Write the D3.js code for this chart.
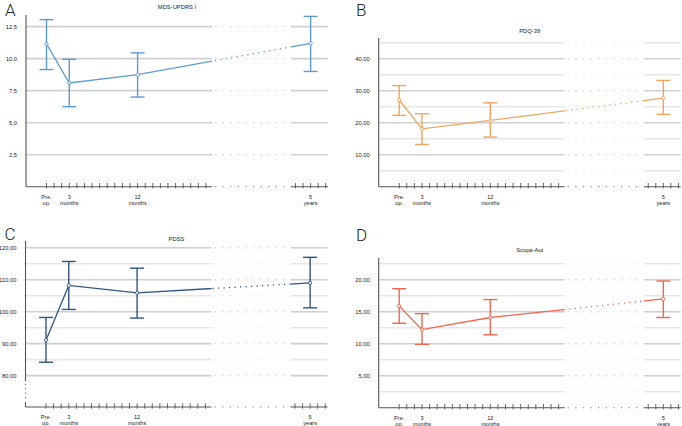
<!DOCTYPE html>
<html>
<head>
<meta charset="utf-8">
<script src="https://cdn.jsdelivr.net/npm/d3@7"></script>
<style>
  body { margin: 0; background: #fff; }
  svg { display: block; font-family: "Liberation Sans", Arial, sans-serif; }
</style>
</head>
<body>
<svg id="chart" width="682" height="426"></svg>
<script>
// time points (months after surgery) and their axis labels
const months = [0, 3, 12, 60];
const timeLabels = [["Pre.", "op."], ["3", "months"], ["12", "months"], ["5", "years"]];

// A - MDS-UPDRS I
const mdsMean = [11.15, 8.1, 8.75, 11.2];
const mdsLow = [9.15, 6.25, 7.0, 9.0];
const mdsHigh = [13.05, 9.95, 10.45, 13.3];
const mdsTicks = [2.5, 5, 7.5, 10, 12.5];
const mdsGrid = [2.5, 5, 7.5, 10, 12.5];

// B - PDQ-39
const pdqMean = [27.1, 18.1, 20.7, 27.7];
const pdqLow = [22.3, 13.2, 15.5, 22.6];
const pdqHigh = [31.6, 22.8, 26.2, 33.2];
const pdqTicks = [10, 20, 30, 40];
const pdqGrid = [5, 10, 15, 20, 25, 30, 35, 40, 45];

// C - PDSS
const pdssMean = [91.1, 108.2, 105.9, 109.0];
const pdssLow = [84.2, 100.7, 98.0, 101.2];
const pdssHigh = [98.2, 115.7, 113.6, 117.0];
const pdssTicks = [80, 90, 100, 110, 120];
const pdssGrid = [80, 85, 90, 95, 100, 105, 110, 115, 120];

// D - Scopa-Aut
const scopaMean = [15.9, 12.2, 14.1, 17.0];
const scopaLow = [13.2, 9.9, 11.4, 14.1];
const scopaHigh = [18.6, 14.7, 16.9, 19.8];
const scopaTicks = [5, 10, 15, 20];
const scopaGrid = [2.5, 5, 7.5, 10, 12.5, 15, 17.5, 20, 22.5];

const locale = d3.formatLocale({ decimal: ",", thousands: ".", grouping: [3], currency: ["", ""] });

const panels = [
  { letter: "A", title: "MDS-UPDRS I", color: "#5b9bd5", mean: mdsMean, low: mdsLow, high: mdsHigh,
    ticks: mdsTicks, grid: mdsGrid, fmt: locale.format(".1f"),
    x0: 26, yDomain: [0, 13.41], yRange: [186.7, 15], titleY: 8.5, letterX: 5, letterY: 15.5, yBreak: false },
  { letter: "B", title: "PDQ-39", color: "#f5a35c", mean: pdqMean, low: pdqLow, high: pdqHigh,
    ticks: pdqTicks, grid: pdqGrid, fmt: locale.format(".2f"),
    x0: 378.7, yDomain: [0, 46.5], yRange: [186.7, 37.9], titleY: 33.3, letterX: 356, letterY: 15.5, yBreak: false },
  { letter: "C", title: "PDSS", color: "#2f5585", mean: pdssMean, low: pdssLow, high: pdssHigh,
    ticks: pdssTicks, grid: pdssGrid, fmt: locale.format(".2f"),
    x0: 25.5, yDomain: [70.2, 122.1], yRange: [407, 241], titleY: 241, letterX: 4.5, letterY: 240, yBreak: true },
  { letter: "D", title: "Scopa-Aut", color: "#f0674e", mean: scopaMean, low: scopaLow, high: scopaHigh,
    ticks: scopaTicks, grid: scopaGrid, fmt: locale.format(".2f"),
    x0: 378.7, yDomain: [0, 23.4], yRange: [407.7, 258], titleY: 252.3, letterX: 356, letterY: 240.5, yBreak: false }
];

const svg = d3.select("#chart");
const defs = svg.append("defs");

panels.forEach((p, i) => {
  // broken time axis: first ~2 years, gap, then around 5 years
  const x = d3.scaleLinear()
    .domain([-2.7, 21.8, 57.4, 62.3])
    .range([p.x0, p.x0 + 186, p.x0 + 265, p.x0 + 302]);
  const y = d3.scaleLinear().domain(p.yDomain).range(p.yRange);

  const gapStart = x(21.8), gapEnd = x(57.4), right = x(62.3);
  const base = y(p.yDomain[0]);
  const top = y(p.yDomain[1]);

  const g = svg.append("g");

  // --- gridlines ---
  p.grid.forEach(v => {
    const major = p.ticks.includes(v);
    const col = major ? "#d0d0d0" : "#e7e7e7";
    g.append("line")
      .attr("x1", p.x0).attr("x2", gapStart).attr("y1", y(v)).attr("y2", y(v))
      .attr("stroke", col).attr("stroke-width", 1.6);
    g.append("line")
      .attr("x1", gapStart + 3).attr("x2", gapEnd - 2).attr("y1", y(v)).attr("y2", y(v))
      .attr("stroke", major ? "#d6d6d6" : "#ebebeb").attr("stroke-width", 1.4)
      .attr("stroke-dasharray", "1.4,6.2");
    g.append("line")
      .attr("x1", gapEnd).attr("x2", right).attr("y1", y(v)).attr("y2", y(v))
      .attr("stroke", col).attr("stroke-width", 1.6);
  });

  // --- y axis ---
  if (p.yBreak) {
    g.append("line").attr("x1", p.x0).attr("x2", p.x0).attr("y1", top).attr("y2", base - 26)
      .attr("stroke", "#555").attr("stroke-width", 1.1);
    g.append("line").attr("x1", p.x0).attr("x2", p.x0).attr("y1", base - 23).attr("y2", base - 6)
      .attr("stroke", "#666").attr("stroke-width", 1.1).attr("stroke-dasharray", "1,3.3");
    g.append("line").attr("x1", p.x0).attr("x2", p.x0).attr("y1", base - 5).attr("y2", base)
      .attr("stroke", "#555").attr("stroke-width", 1.1);
  } else {
    g.append("line").attr("x1", p.x0).attr("x2", p.x0).attr("y1", top).attr("y2", base)
      .attr("stroke", "#555").attr("stroke-width", 1.1);
  }

  g.selectAll(".ylab").data(p.ticks).join("text")
    .attr("x", p.x0 - 9)
    .attr("y", d => y(d) + 2)
    .attr("text-anchor", "end")
    .attr("font-size", 5.8)
    .attr("fill", "#222")
    .text(d => p.fmt(d));

  // --- x axis ---
  g.append("line").attr("x1", p.x0).attr("x2", gapStart).attr("y1", base).attr("y2", base)
    .attr("stroke", "#555").attr("stroke-width", 1.1);
  g.append("line").attr("x1", gapStart + 3).attr("x2", gapEnd - 2).attr("y1", base).attr("y2", base)
    .attr("stroke", "#777").attr("stroke-width", 1.1).attr("stroke-dasharray", "1.2,6.4");
  g.append("line").attr("x1", gapEnd).attr("x2", right).attr("y1", base).attr("y2", base)
    .attr("stroke", "#555").attr("stroke-width", 1.1);

  const tickMonths = d3.range(0, 22).concat(d3.range(58, 63));
  g.selectAll(".xtick").data(tickMonths).join("line")
    .attr("x1", d => x(d)).attr("x2", d => x(d))
    .attr("y1", base - 3.7).attr("y2", base + 1.7)
    .attr("stroke", "#555").attr("stroke-width", 0.9);

  months.forEach((m, k) => {
    const t = g.append("text")
      .attr("text-anchor", "middle")
      .attr("font-size", 5.6)
      .attr("fill", "#222");
    t.append("tspan").attr("x", x(m)).attr("y", base + 12.3).text(timeLabels[k][0]);
    t.append("tspan").attr("x", x(m)).attr("y", base + 17.8).text(timeLabels[k][1]);
  });

  // --- mean line: solid outside the gap, dotted across it ---
  const solidId = "solid" + i, gapId = "gap" + i;
  const cs = defs.append("clipPath").attr("id", solidId);
  cs.append("rect").attr("x", p.x0).attr("y", 0).attr("width", gapStart - p.x0).attr("height", 426);
  cs.append("rect").attr("x", gapEnd).attr("y", 0).attr("width", 682 - gapEnd).attr("height", 426);
  defs.append("clipPath").attr("id", gapId)
    .append("rect").attr("x", gapStart).attr("y", 0).attr("width", gapEnd - gapStart).attr("height", 426);

  const line = d3.line().x((d, k) => x(months[k])).y(d => y(d));

  g.append("path").datum(p.mean)
    .attr("d", line).attr("fill", "none")
    .attr("stroke", p.color).attr("stroke-width", 1.3)
    .attr("clip-path", `url(#${solidId})`);
  g.append("path").datum(p.mean)
    .attr("d", line).attr("fill", "none")
    .attr("stroke", p.color).attr("stroke-width", 1.3)
    .attr("stroke-dasharray", "1.3,4.2")
    .attr("clip-path", `url(#${gapId})`);

  // --- error bars ---
  months.forEach((m, k) => {
    const cx = x(m);
    g.append("line").attr("x1", cx).attr("x2", cx).attr("y1", y(p.low[k])).attr("y2", y(p.high[k]))
      .attr("stroke", p.color).attr("stroke-width", 1.4);
    [p.low[k], p.high[k]].forEach(v => {
      g.append("line").attr("x1", cx - 7).attr("x2", cx + 7).attr("y1", y(v)).attr("y2", y(v))
        .attr("stroke", p.color).attr("stroke-width", 1.4);
    });
  });

  g.selectAll(".pt").data(p.mean).join("circle")
    .attr("cx", (d, k) => x(months[k]))
    .attr("cy", d => y(d))
    .attr("r", 1.6)
    .attr("fill", "#fff")
    .attr("stroke", p.color)
    .attr("stroke-width", 0.9);

  // --- title and panel letter ---
  g.append("text")
    .attr("x", p.x0 + 151).attr("y", p.titleY)
    .attr("text-anchor", "middle")
    .attr("font-size", 5.8)
    .attr("fill", "#222")
    .text(p.title);

  g.append("text")
    .attr("x", p.letterX).attr("y", p.letterY)
    .attr("font-family", "Roboto, 'Liberation Sans', sans-serif")
    .attr("font-weight", 300)
    .attr("font-size", 17)
    .attr("fill", "#222")
    .text(p.letter);
});
</script>
</body>
</html>
